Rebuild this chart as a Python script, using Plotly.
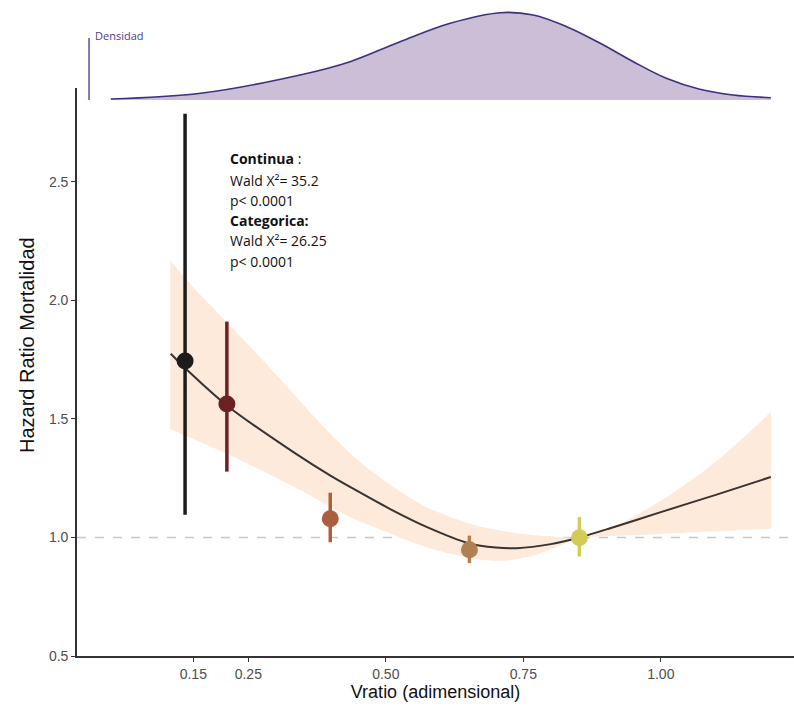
import plotly.graph_objects as go

# ---- data ----
curve_x = [0.109, 0.135, 0.211, 0.332, 0.40, 0.453, 0.508, 0.574, 0.652, 0.70, 0.738, 0.80, 0.852, 0.908, 1.00, 1.10, 1.20]
curve_hr = [1.775, 1.715, 1.557, 1.36, 1.26, 1.19, 1.12, 1.045, 0.975, 0.958, 0.955, 0.972, 1.0, 1.039, 1.107, 1.18, 1.255]

upper_x = [0.108, 0.15, 0.211, 0.271, 0.332, 0.393, 0.453, 0.514, 0.574, 0.635, 0.677, 0.74, 0.80, 0.852, 0.90, 1.00, 1.10, 1.20]
upper_hr = [2.169, 2.056, 1.908, 1.761, 1.606, 1.451, 1.318, 1.212, 1.128, 1.072, 1.043, 1.018, 1.004, 1.0, 1.028, 1.155, 1.32, 1.529]

lower_x = [0.108, 0.211, 0.332, 0.435, 0.508, 0.556, 0.62, 0.677, 0.72, 0.77, 0.81, 0.852, 0.90, 1.00, 1.10, 1.20]
lower_hr = [1.458, 1.353, 1.215, 1.086, 1.017, 0.973, 0.93, 0.905, 0.903, 0.925, 0.96, 0.997, 1.005, 1.015, 1.026, 1.037]

cat_x = [0.135, 0.211, 0.399, 0.652, 0.852]
cat_hr = [1.745, 1.563, 1.079, 0.948, 0.999]
cat_lo = [1.096, 1.278, 0.980, 0.892, 0.920]
cat_hi = [2.788, 1.911, 1.189, 1.008, 1.086]
cat_colors = ["#1c1c1c", "#6c2222", "#aa5f3e", "#b07f52", "#d3cb57"]

dens_x = [0.0, 0.163, 0.344, 0.435, 0.526, 0.617, 0.708, 0.768, 0.829, 0.89, 0.95, 1.01, 1.071, 1.131, 1.2]
dens_y = [1.0, 6.7, 25.0, 38.3, 58.3, 76.7, 87.3, 85.0, 73.3, 56.7, 38.3, 21.7, 10.7, 5.0, 2.3]

x_tickvals = [0.15, 0.25, 0.50, 0.75, 1.00]
x_ticktext = ["0.15", "0.25", "0.50", "0.75", "1.00"]
y_tickvals = [0.5, 1.0, 1.5, 2.0, 2.5]

stats_lines = ["<b>Continua</b> :", "Wald X²= 35.2", "p< 0.0001", "<b>Categorica:</b>", "Wald X²= 26.25", "p< 0.0001"]

# ---- figure ----
fig = go.Figure()

# density
fig.add_trace(go.Scatter(x=dens_x, y=dens_y, xaxis="x", yaxis="y2", mode="lines",
                         line=dict(color="#3d2f7c", width=1.6, shape="spline"),
                         fill="tozeroy", fillcolor="#cabfd7", hoverinfo="skip", showlegend=False))

# confidence band
fig.add_trace(go.Scatter(x=lower_x, y=lower_hr, mode="lines",
                         line=dict(width=0, color="rgba(0,0,0,0)", shape="spline", smoothing=0.8),
                         hoverinfo="skip", showlegend=False))
fig.add_trace(go.Scatter(x=upper_x, y=upper_hr, mode="lines",
                         line=dict(width=0, color="rgba(0,0,0,0)", shape="spline", smoothing=0.8),
                         fill="tonexty", fillcolor="#fdeadb", hoverinfo="skip", showlegend=False))

# spline curve
fig.add_trace(go.Scatter(x=curve_x, y=curve_hr, mode="lines",
                         line=dict(color="#383330", width=2, shape="spline", smoothing=0.8),
                         hoverinfo="skip", showlegend=False))

# categorical points with CI
for xv, yv, lo, hi, c in zip(cat_x, cat_hr, cat_lo, cat_hi, cat_colors):
    fig.add_trace(go.Scatter(x=[xv], y=[yv], mode="markers",
                             marker=dict(color=c, size=17),
                             error_y=dict(type="data", symmetric=False, array=[hi - yv], arrayminus=[yv - lo],
                                          color=c, thickness=3.5, width=0),
                             showlegend=False))

# reference line
fig.add_shape(type="line", xref="paper", x0=0, x1=1, yref="y", y0=1.0, y1=1.0,
              line=dict(color="#c8c8c8", width=1.5, dash="dash"), layer="below")

# density scale bar + label
fig.add_shape(type="line", xref="x", x0=-0.0396, x1=-0.0396, yref="y2", y0=0, y1=62,
              line=dict(color="#5b4b9b", width=1.5))
fig.add_annotation(x=-0.033, y=65, xref="x", yref="y2", text="Densidad", showarrow=False,
                   xanchor="left", yanchor="middle", font=dict(family="Open Sans", size=11, color="#4a3b8c"))

# stats text
line_py = [158, 180, 201, 220, 240, 261]
for t, py in zip(stats_lines, line_py):
    fig.add_annotation(x=(228 - 77) / 717, y=(656 - py) / 646, xref="paper", yref="paper",
                       text=t, showarrow=False, xanchor="left", yanchor="middle",
                       font=dict(family="Open Sans", size=14, color="#111111"))

# y title (centered on whole panel height, as in reference)
fig.add_annotation(x=(27 - 77) / 717, y=(656 - 345) / 646, xref="paper", yref="paper",
                   text="Hazard Ratio Mortalidad", showarrow=False, textangle=-90,
                   xanchor="center", yanchor="middle",
                   font=dict(family="Liberation Sans, Arial", size=20, color="#111111"))

fig.update_layout(
    width=794, height=707,
    margin=dict(l=77, r=0, t=10, b=51),
    plot_bgcolor="white", paper_bgcolor="white",
    font=dict(family="Liberation Sans, Arial", color="#4d4d4d"),
    xaxis=dict(range=[-0.0615, 1.2422], tickvals=x_tickvals, ticktext=x_ticktext,
               showgrid=False, zeroline=False, showline=True, linecolor="#333333", linewidth=1.6,
               ticks="outside", ticklen=4, tickcolor="#333333", tickwidth=1.3,
               tickfont=dict(size=14, color="#4d4d4d"),
               title=dict(text="Vratio (adimensional)", font=dict(size=18, color="#111111"), standoff=2),
               anchor="y", automargin=False),
    yaxis=dict(domain=[0, 0.8793], range=[0.5, 2.8966], tickvals=y_tickvals, tickformat=".1f",
               showgrid=False, zeroline=False, showline=True, linecolor="#333333", linewidth=1.6,
               ticks="outside", ticklen=4, tickcolor="#333333", tickwidth=1.3,
               tickfont=dict(size=14, color="#4d4d4d"),
               anchor="x", automargin=False),
    yaxis2=dict(domain=[0.8607, 1.0], range=[0, 90], visible=False, anchor="x"),
)

fig.write_html("out.html")
